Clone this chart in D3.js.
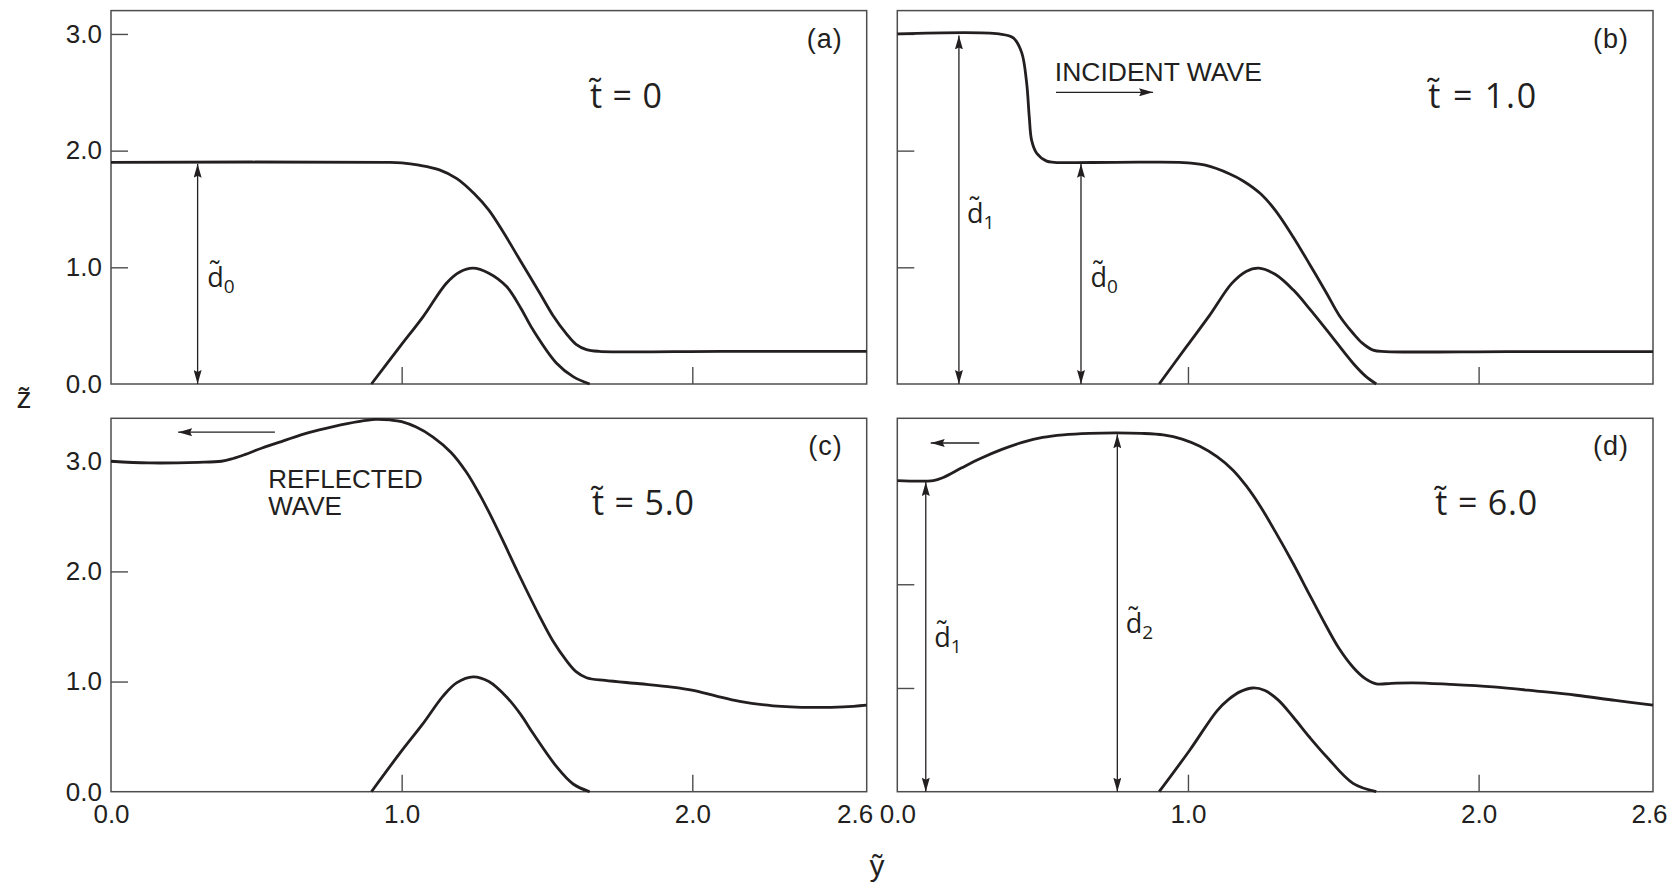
<!DOCTYPE html>
<html lang="en">
<head>
<meta charset="UTF-8">
<title>Wave over a submerged bump</title>
<style>
  body { margin: 0; background: #fff; }
  svg text { font-family: "Liberation Sans", Arial, sans-serif; fill: #231f20; }
  .tick-label { font-size: 26px; }
  .time { font-family: "Open Sans", sans-serif; font-size: 34px; }
  .depth { font-family: "Open Sans", sans-serif; font-size: 27px; }
  .panel-name { font-size: 27px; letter-spacing: 1px; }
  .note { font-size: 25px; }
</style>
</head>
<body>
<svg id="chart" width="1675" height="889"></svg>
<script src="https://cdn.jsdelivr.net/npm/d3@7"></script>
<script>
// free surface and bottom profiles, [y~, z~]
const surfaceA = [[0,1.90],[0.95,1.90],[1.0,1.895],[1.06,1.875],[1.13,1.835],[1.19,1.76],[1.25,1.63],[1.30,1.49],
  [1.35,1.30],[1.41,1.05],[1.475,0.78],[1.52,0.59],[1.567,0.43],[1.60,0.34],[1.636,0.295],[1.68,0.28],[2.1,0.28],[2.6,0.28]];
const bottomA = [[0.896,0],[0.994,0.32],[1.074,0.578],[1.154,0.864],[1.20,0.96],[1.245,0.993],[1.30,0.95],
  [1.361,0.835],[1.41,0.65],[1.452,0.464],[1.533,0.178],[1.59,0.063],[1.647,0]];

const surfaceB = [[0,3.0],[0.35,3.0],[0.399,2.967],[0.428,2.84],[0.445,2.58],[0.454,2.29],[0.462,2.09],[0.479,1.98],
  [0.514,1.91],[0.54,1.90],[0.75,1.90],[0.97,1.90],[1.0,1.895],[1.06,1.875],[1.144,1.80],[1.19,1.74],[1.25,1.63],[1.30,1.49],
  [1.362,1.26],[1.42,1.02],[1.477,0.778],[1.52,0.59],[1.568,0.435],[1.60,0.35],[1.637,0.29],[1.68,0.278],[2.1,0.278],[2.6,0.278]];
const bottomB = [[0.901,0],[0.995,0.32],[1.075,0.59],[1.15,0.86],[1.20,0.965],[1.244,0.993],[1.30,0.94],
  [1.362,0.807],[1.42,0.64],[1.477,0.464],[1.568,0.178],[1.61,0.07],[1.648,0]];

const surfaceC = [[0,3.0],[0.13,2.985],[0.30,2.99],[0.38,3.0],[0.42,3.025],[0.46,3.06],[0.52,3.12],[0.593,3.185],
  [0.68,3.26],[0.765,3.315],[0.85,3.36],[0.91,3.38],[0.96,3.375],[1.0,3.36],[1.05,3.31],[1.108,3.22],[1.17,3.08],
  [1.223,2.90],[1.27,2.69],[1.30,2.54],[1.35,2.27],[1.40,1.99],[1.475,1.59],[1.52,1.37],[1.567,1.19],[1.60,1.09],
  [1.636,1.035],[1.70,1.01],[1.82,0.98],[1.93,0.95],[2.003,0.92],[2.08,0.87],[2.163,0.82],[2.278,0.78],[2.415,0.765],[2.52,0.77],[2.6,0.786]];
const bottomC = [[0.896,0],[0.994,0.35],[1.074,0.62],[1.143,0.87],[1.19,0.99],[1.246,1.043],[1.30,1.0],
  [1.361,0.86],[1.41,0.70],[1.452,0.53],[1.533,0.227],[1.59,0.07],[1.647,0]];

const surfaceD = [[0,3.0],[0.124,3.0],[0.158,3.03],[0.22,3.12],[0.284,3.21],[0.36,3.30],[0.433,3.37],[0.50,3.415],
  [0.571,3.44],[0.66,3.455],[0.754,3.46],[0.84,3.455],[0.915,3.44],[0.98,3.40],[1.041,3.33],[1.10,3.23],[1.155,3.10],
  [1.20,2.95],[1.247,2.76],[1.30,2.51],[1.362,2.20],[1.42,1.89],[1.477,1.59],[1.52,1.38],[1.568,1.20],[1.61,1.09],
  [1.648,1.04],[1.70,1.045],[1.774,1.05],[1.90,1.035],[2.05,1.01],[2.20,0.97],[2.336,0.93],[2.47,0.88],[2.6,0.835]];
const bottomD = [[0.901,0],[1.006,0.40],[1.10,0.78],[1.14,0.89],[1.18,0.965],[1.224,1.0],[1.265,0.975],[1.31,0.885],
  [1.362,0.72],[1.42,0.52],[1.477,0.337],[1.568,0.08],[1.648,0]];

// depth arrows [y~, z~ from, z~ to] and their labels [y~, z~, subscript]
const depthArrowsA = [[0.298, 0, 1.9]];
const depthLabelsA = [[0.331, 0.833, "0"]];
const depthArrowsB = [[0.212, 0, 3.0], [0.632, 0, 1.9]];
const depthLabelsB = [[0.24, 1.382, "1"], [0.665, 0.833, "0"]];
const depthArrowsD = [[0.098, 0, 3.0], [0.757, 0, 3.46]];
const depthLabelsD = [[0.127, 1.397, "1"], [0.786, 1.529, "2"]];

// wave direction arrows [y~ from, y~ to, z~] and notes [text, y~, z~]
const waveArrowsB = [[0.546, 0.880, 2.50]];
const notesB = [["INCIDENT WAVE", 0.542, 2.60]];
const waveArrowsC = [[0.564, 0.231, 3.264]];
const notesC = [["REFLECTED", 0.541, 2.753], ["WAVE", 0.541, 2.51]];
const waveArrowsD = [[0.282, 0.115, 3.362]];

const panelNames = ["(a)", "(b)", "(c)", "(d)"];
const timeValues = ["0", "1.0", "5.0", "6.0"];
const xTickMarks = [1.0, 2.0];
const xTickLabels = [0.0, 1.0, 2.0, 2.6];
const yTickMarks = [1.0, 2.0, 3.0];
const yTickLabels = [0.0, 1.0, 2.0, 3.0];
const zMax = [3.2, 3.2, 3.39, 3.6];

const TILDE = "\u0303";
const W = 755.7, H = 373.4;
const panels = [
  { left: 111,   top: 10.6,  surface: surfaceA, bottom: bottomA, depth: depthArrowsA, dlab: depthLabelsA, waves: [], notes: [], yLab: true,  xLab: false, tx: 479, tw: 72 },
  { left: 897.3, top: 10.6,  surface: surfaceB, bottom: bottomB, depth: depthArrowsB, dlab: depthLabelsB, waves: waveArrowsB, notes: notesB, yLab: false, xLab: false, tx: 531, tw: 108 },
  { left: 111,   top: 418.3, surface: surfaceC, bottom: bottomC, depth: [], dlab: [], waves: waveArrowsC, notes: notesC, yLab: true,  xLab: true, tx: 481, tw: 102, lastShift: -12 },
  { left: 897.3, top: 418.3, surface: surfaceD, bottom: bottomD, depth: depthArrowsD, dlab: depthLabelsD, waves: waveArrowsD, notes: [], yLab: false, xLab: true, tx: 538, tw: 102, lastShift: -4 }
];

const svg = d3.select("#chart");
const ink = "#231f20";

svg.append("defs").append("marker")
  .attr("id", "head")
  .attr("viewBox", "0 0 14 8")
  .attr("refX", 14).attr("refY", 4)
  .attr("markerWidth", 14).attr("markerHeight", 8)
  .attr("markerUnits", "userSpaceOnUse")
  .attr("orient", "auto-start-reverse")
  .append("path")
  .attr("d", "M0,0 L14,4 L0,8 L2,4 Z")
  .attr("fill", ink);

panels.forEach((p, i) => {
  const x = d3.scaleLinear().domain([0, 2.6]).range([0, W]);
  const z = d3.scaleLinear().domain([0, zMax[i]]).range([H, 0]);
  const g = svg.append("g").attr("transform", `translate(${p.left},${p.top})`);

  // inward tick marks
  g.append("g")
    .attr("transform", `translate(0,${H})`)
    .attr("color", "#4d4d4f")
    .call(d3.axisBottom(x).tickValues(xTickMarks).tickSize(-17).tickFormat(""))
    .call(a => a.select(".domain").remove())
    .selectAll("line").attr("stroke-width", 1.4);
  g.append("g")
    .attr("color", "#4d4d4f")
    .call(d3.axisLeft(z).tickValues(yTickMarks).tickSize(-17).tickFormat(""))
    .call(a => a.select(".domain").remove())
    .selectAll("line").attr("stroke-width", 1.4);

  if (p.yLab) {
    g.append("g")
      .call(d3.axisLeft(z).tickValues(yTickLabels).tickSize(0).tickPadding(9).tickFormat(d3.format(".1f")))
      .call(a => a.select(".domain").remove())
      .selectAll("text").attr("class", "tick-label");
  }
  if (p.xLab) {
    const lab = g.append("g")
      .attr("transform", `translate(0,${H})`)
      .call(d3.axisBottom(x).tickValues(xTickLabels).tickSize(0).tickPadding(13).tickFormat(d3.format(".1f")))
      .call(a => a.select(".domain").remove());
    lab.selectAll("text").attr("class", "tick-label")
      .attr("dx", d => d === 2.6 ? p.lastShift : 0);
  }

  // frame
  g.append("rect")
    .attr("width", W).attr("height", H)
    .attr("fill", "none").attr("stroke", "#4d4d4f").attr("stroke-width", 1.5);

  const line = d3.line().x(d => x(d[0])).y(d => z(d[1])).curve(d3.curveCatmullRom.alpha(0.5));
  [p.surface, p.bottom].forEach(s => {
    g.append("path")
      .attr("d", line(s))
      .attr("fill", "none").attr("stroke", ink)
      .attr("stroke-width", 2.8).attr("stroke-linejoin", "round");
  });

  // depth arrows
  p.depth.forEach(d => {
    g.append("line")
      .attr("x1", x(d[0])).attr("x2", x(d[0]))
      .attr("y1", z(d[1])).attr("y2", z(d[2]) + 1.5)
      .attr("stroke", ink).attr("stroke-width", 1.3)
      .attr("marker-start", "url(#head)").attr("marker-end", "url(#head)");
  });
  p.dlab.forEach(d => {
    const t = g.append("text").attr("class", "depth").attr("x", x(d[0])).attr("y", z(d[1]));
    t.append("tspan").text("d" + TILDE);
    t.append("tspan").attr("dy", 6).style("font-size", "19px").text(d[2]);
  });

  // wave direction arrows and notes
  p.waves.forEach(d => {
    g.append("line")
      .attr("x1", x(d[0])).attr("x2", x(d[1]))
      .attr("y1", z(d[2])).attr("y2", z(d[2]))
      .attr("stroke", ink).attr("stroke-width", 1.3)
      .attr("marker-end", "url(#head)");
  });
  p.notes.forEach(d => {
    const t = g.append("text").attr("class", "note")
      .attr("x", x(d[1])).attr("y", z(d[2])).text(d[0]);
    if (d[0] === "INCIDENT WAVE") t.attr("textLength", 207).attr("lengthAdjust", "spacingAndGlyphs");
    else t.style("font-size", "26px");
  });

  // panel name and time
  g.append("text").attr("class", "panel-name")
    .attr("x", W - 24).attr("y", 37).attr("text-anchor", "end")
    .text(panelNames[i]);
  g.append("text").attr("class", "time")
    .attr("x", p.tx).attr("y", 97)
    .attr("textLength", p.tw).attr("lengthAdjust", "spacing")
    .text("t" + TILDE + " = " + timeValues[i]);
});

// axis titles
svg.append("text").attr("x", 24).attr("y", 408).attr("text-anchor", "middle")
  .style("font-size", "30px").text("z" + TILDE);
svg.append("text").attr("x", 877).attr("y", 876).attr("text-anchor", "middle")
  .style("font-size", "30px").text("y" + TILDE);
</script>
</body>
</html>
